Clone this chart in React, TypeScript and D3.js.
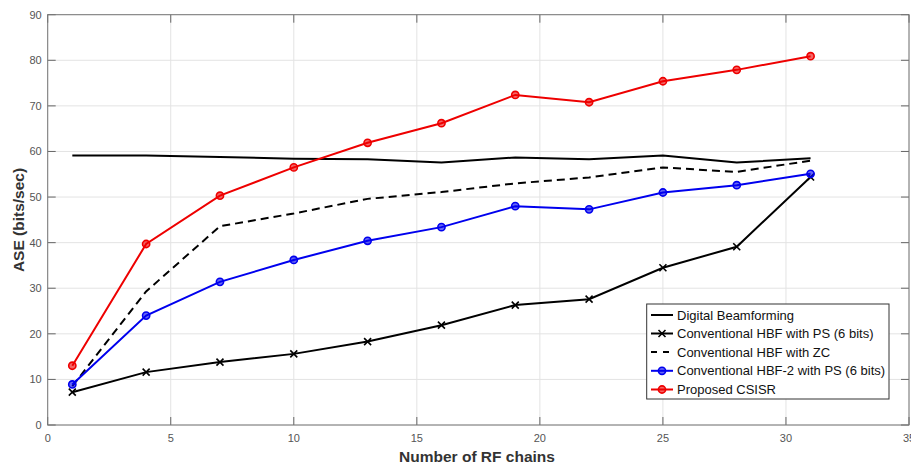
import React from "react";
import * as d3 from "d3";

const xValues = [1, 4, 7, 10, 13, 16, 19, 22, 25, 28, 31];
const digitalBF = [59.1, 59.1, 58.8, 58.4, 58.3, 57.6, 58.7, 58.3, 59.1, 57.6, 58.5];
const convPS = [7.2, 11.6, 13.8, 15.6, 18.3, 21.9, 26.3, 27.6, 34.5, 39.1, 54.4];
const convZC = [8.5, 29.3, 43.6, 46.4, 49.6, 51.1, 53, 54.3, 56.5, 55.5, 58];
const conv2PS = [8.9, 24, 31.4, 36.2, 40.4, 43.4, 48, 47.3, 51, 52.6, 55.1];
const csisr = [13, 39.7, 50.3, 56.5, 61.9, 66.2, 72.4, 70.8, 75.4, 77.9, 80.9];

const xTicks = [0, 5, 10, 15, 20, 25, 30, 35];
const yTicks = [0, 10, 20, 30, 40, 50, 60, 70, 80, 90];

const seriesNames = [
  "Digital Beamforming",
  "Conventional HBF with PS (6 bits)",
  "Conventional HBF with ZC",
  "Conventional HBF-2 with PS (6 bits)",
  "Proposed CSISR",
];

type S = { name: string; values: number[]; color: string; dash?: string; marker?: "x" | "o" };

export default function App() {
  const W = 911, H = 469;
  const left = 47.7, right = 909, top = 14.7, bottom = 425;
  const x = d3.scaleLinear().domain([0, 35]).range([left, right]);
  const y = d3.scaleLinear().domain([0, 90]).range([bottom, top]);

  const series: S[] = [
    { name: seriesNames[0], values: digitalBF, color: "#000" },
    { name: seriesNames[1], values: convPS, color: "#000", marker: "x" },
    { name: seriesNames[2], values: convZC, color: "#000", dash: "8,5" },
    { name: seriesNames[3], values: conv2PS, color: "#0000ee", marker: "o" },
    { name: seriesNames[4], values: csisr, color: "#ee0000", marker: "o" },
  ];

  const line = d3.line<number>().x((_, i) => x(xValues[i])).y((d) => y(d));
  const font = "'Liberation Sans', Arial, Helvetica, sans-serif";
  const tickColor = "#555";

  const drawMarker = (s: S, cx: number, cy: number, key: string | number) => {
    if (s.marker === "x") {
      const r = 3.5;
      return (
        <path key={key} d={`M${cx - r},${cy - r}L${cx + r},${cy + r}M${cx - r},${cy + r}L${cx + r},${cy - r}`}
          stroke={s.color} strokeWidth={1.6} fill="none" />
      );
    }
    if (s.marker === "o") {
      return <circle key={key} cx={cx} cy={cy} r={3.6} fill={s.color} fillOpacity={0.6} stroke={s.color} strokeWidth={1.6} />;
    }
    return null;
  };

  const legX = 646.7, legY = 304, legW = 242.3, legH = 95;
  const rowYs = [315, 333.5, 352, 370.8, 389.5];

  return (
    <svg width={W} height={H} style={{ position: "absolute", left: 0, top: 0, background: "#fff" }} fontFamily={font}>
      <rect x={0} y={0} width={W} height={H} fill="#fff" />
      {xTicks.map((t) => (
        <line key={"gx" + t} x1={x(t)} x2={x(t)} y1={top} y2={bottom} stroke="#e3e3e3" strokeWidth={1} />
      ))}
      {yTicks.map((t) => (
        <line key={"gy" + t} x1={left} x2={right} y1={y(t)} y2={y(t)} stroke="#e3e3e3" strokeWidth={1} />
      ))}
      {xTicks.map((t) => (
        <g key={"tx" + t}>
          <line x1={x(t)} x2={x(t)} y1={bottom} y2={bottom - 8} stroke="#666" />
          <line x1={x(t)} x2={x(t)} y1={top} y2={top + 8} stroke="#666" />
          <text x={x(t)} y={bottom + 17} textAnchor="middle" fontSize={11} fill={tickColor}>{t}</text>
        </g>
      ))}
      {yTicks.map((t) => (
        <g key={"ty" + t}>
          <line x1={left} x2={left + 8} y1={y(t)} y2={y(t)} stroke="#666" />
          <line x1={right} x2={right - 8} y1={y(t)} y2={y(t)} stroke="#666" />
          <text x={left - 6} y={y(t) + 4} textAnchor="end" fontSize={11} fill={tickColor}>{t}</text>
        </g>
      ))}
      <rect x={left} y={top} width={right - left} height={bottom - top} fill="none" stroke="#777" strokeWidth={1} />
      {series.map((s, si) => (
        <g key={"s" + si}>
          <path d={line(s.values) || ""} fill="none" stroke={s.color} strokeWidth={2} strokeDasharray={s.dash} />
          {s.values.map((v, i) => drawMarker(s, x(xValues[i]), y(v), i))}
        </g>
      ))}
      <text x={477} y={462} textAnchor="middle" fontSize={15.5} fontWeight="bold" fill="#333">
        Number of RF chains
      </text>
      <text transform={`translate(24,220) rotate(-90)`} textAnchor="middle" fontSize={15.5} fontWeight="bold" fill="#333">
        ASE (bits/sec)
      </text>
      <rect x={legX} y={legY} width={legW} height={legH} fill="#fff" stroke="#333" strokeWidth={1} />
      {series.map((s, i) => {
        const ry = rowYs[i];
        return (
          <g key={"l" + i}>
            <line x1={651} x2={673} y1={ry} y2={ry} stroke={s.color} strokeWidth={2} strokeDasharray={s.dash ? "6,6" : undefined} />
            {drawMarker(s, 662, ry, "m")}
            <text x={677} y={ry + 4.5} fontSize={13} fill="#111">{s.name}</text>
          </g>
        );
      })}
    </svg>
  );
}
